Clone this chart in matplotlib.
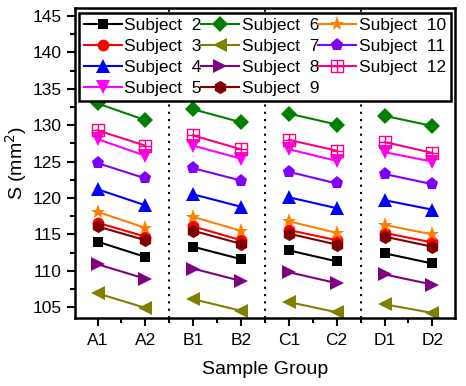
import matplotlib
matplotlib.use("Agg")
import matplotlib.pyplot as plt
import numpy as np
from matplotlib.path import Path

plt.rcParams['font.family'] = ['Liberation Sans', 'DejaVu Sans']

groups = ["A1", "A2", "B1", "B2", "C1", "C2", "D1", "D2"]
subjects = ["Subject  2", "Subject  3", "Subject  4", "Subject  5", "Subject  6",
            "Subject  7", "Subject  8", "Subject  9", "Subject  10", "Subject  11",
            "Subject  12"]

s2 = [114.0, 111.9, 113.3, 111.6, 112.8, 111.3, 112.4, 111.0]
s3 = [116.6, 114.7, 116.1, 114.2, 115.6, 114.2, 115.2, 113.9]
s4 = [121.2, 119.0, 120.5, 118.8, 120.1, 118.6, 119.7, 118.4]
s5 = [128.1, 125.8, 127.2, 125.4, 126.7, 125.1, 126.3, 125.0]
s6 = [133.0, 130.7, 132.2, 130.4, 131.6, 130.1, 131.3, 129.9]
s7 = [106.9, 104.9, 106.1, 104.5, 105.7, 104.3, 105.4, 104.2]
s8 = [110.9, 108.9, 110.3, 108.6, 109.8, 108.3, 109.5, 108.1]
s9 = [116.1, 114.2, 115.5, 113.7, 115.1, 113.6, 114.7, 113.3]
s10 = [118.1, 115.9, 117.4, 115.5, 116.8, 115.2, 116.3, 115.0]
s11 = [124.8, 122.7, 124.1, 122.4, 123.6, 122.0, 123.3, 121.9]
s12 = [129.3, 127.2, 128.6, 126.7, 128.0, 126.5, 127.7, 126.2]

series = [s2, s3, s4, s5, s6, s7, s8, s9, s10, s11, s12]
colors = ["#000000", "#FF0000", "#0000FF", "#FF00FF", "#008000", "#808000",
          "#800080", "#800000", "#FF8000", "#8000FF", "#FF0080"]

# open square with cross marker
sq_verts = [(-1, -1), (1, -1), (1, 1), (-1, 1), (-1, -1),
            (0, -1), (0, 1), (-1, 0), (1, 0)]
sq_codes = [Path.MOVETO, Path.LINETO, Path.LINETO, Path.LINETO, Path.LINETO,
            Path.MOVETO, Path.LINETO, Path.MOVETO, Path.LINETO]
sqplus = Path(sq_verts, sq_codes)

markers = ["s", "o", "^", "v", "D", "<", ">", "h", "*", "p", sqplus]
msizes = [7.5, 8.5, 9.5, 9.5, 8, 9.5, 9.5, 9.5, 11, 9.5, 8]

fig = plt.figure(figsize=(4.66, 3.86), dpi=100)
ax = fig.add_axes([0.161, 0.176, 0.815, 0.803])

x = np.arange(1, len(groups) + 1)
for vals, c, m, ms, lab in zip(series, colors, markers, msizes, subjects):
    vals = np.asarray(vals)
    first = True
    for g in range(0, len(groups), 2):
        kw = dict(color=c, marker=m, markersize=ms, linewidth=1.5)
        if m is sqplus:
            kw.update(markerfacecolor='none', markeredgecolor=c, markeredgewidth=1.0)
        else:
            kw.update(markeredgewidth=0)
        ax.plot(x[g:g + 2], vals[g:g + 2], label=lab if first else None, **kw)
        first = False

for xv in [2.5, 4.5, 6.5]:
    ax.axvline(xv, color='black', linestyle=(0, (1.0, 2.5)), linewidth=1.5, zorder=0)

ax.set_xlim(0.53, 8.47)
ax.set_ylim(103.5, 146.1)
ax.set_xticks(x)
ax.set_xticklabels(groups)
ax.set_xticks(np.arange(1.5, 8.5, 1.0), minor=True)
ax.set_yticks(np.arange(105, 146, 5))
ax.set_yticks(np.arange(107.5, 146, 5), minor=True)

ax.tick_params(axis='both', which='major', direction='out', length=6, width=1.5,
               labelsize=12.5, top=False, right=False)
ax.tick_params(axis='x', which='major', pad=5)
ax.tick_params(axis='both', which='minor', direction='out', length=3.5, width=1.5,
               top=False, right=False)
for sp in ax.spines.values():
    sp.set_linewidth(1.8)

ax.set_xlabel("Sample Group", fontsize=14, labelpad=9)
ax.set_ylabel("S (mm$^2$)", fontsize=14, labelpad=3)

leg = ax.legend(ncol=3, loc='upper left', bbox_to_anchor=(0.01, 0.705, 0.98, 0.28),
                mode='expand', borderaxespad=0, fontsize=12.5, handlelength=2.2,
                handletextpad=0.15, columnspacing=0.0, borderpad=0.28,
                labelspacing=0.34, fancybox=False, framealpha=1, edgecolor='black')
leg.get_frame().set_linewidth(1.8)

fig.savefig("out.png", dpi=100)
